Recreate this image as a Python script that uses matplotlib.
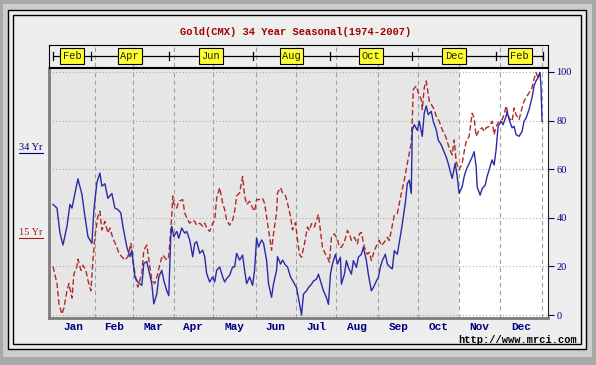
import matplotlib.pyplot as plt
from matplotlib.patches import Rectangle
from matplotlib.lines import Line2D

# seasonal index (0-100) vs trading day of the year
blue_day = [2, 4, 5.5, 7, 9, 10.5, 11.5, 13, 14.5, 16.5,
            18, 19.5, 21.5, 22.5, 24, 25.5, 26.5, 28, 29.5, 31.5,
            33, 34.5, 36, 37, 39, 40.5, 41.5, 43, 44.5, 46.5,
            47.5, 49, 50, 51.5, 52.5, 54, 55, 56.5, 57.5, 59,
            60, 60.5, 61, 61.5, 62.5, 64, 65, 66.5, 68, 69,
            70.5, 72, 73, 74, 75.5, 77, 78, 79, 80.5, 82,
            83, 84, 85.5, 87, 88, 89, 90.5, 92, 93, 94,
            95.5, 97, 98, 99, 100.5, 102, 103, 104, 105, 106.5,
            107.5, 109, 110, 111.5, 112.5, 114, 114.5, 116, 117, 118.5,
            119.5, 121, 122, 124, 125, 126.5, 127.5, 129, 130, 131.5,
            132.5, 134, 135, 136.5, 137.5, 139, 140, 141, 142, 143.5,
            144.5, 146, 146.5, 148, 149, 150, 151.5, 152.5, 154, 155,
            156.5, 157.5, 159, 160, 161.5, 162.5, 164, 165, 166, 167,
            168.5, 169.5, 171, 172, 173, 174.5, 175.5, 176.5, 177.5, 178.5,
            179.5, 180.5, 181.5, 182, 183, 184.5, 185.5, 187, 188, 189,
            190, 191.5, 192.5, 194, 195, 196.5, 197.5, 199, 200, 201.5,
            202, 203.5, 204.5, 205.5, 207, 208, 209, 210.5, 212, 213,
            214, 214.5, 216, 217, 218.5, 219.5, 221, 222, 223, 224,
            225, 226.5, 227.5, 229, 229.5, 230.5, 232, 233, 234, 235.5,
            237, 238, 239, 240.5, 242, 243, 244, 245, 246, 246.5, 247]
blue_val = [45.5, 44, 33.7, 28.8, 36.5, 45.5, 44, 50, 56, 49.6,
            40.6, 32.3, 29.5, 43.4, 54.5, 58.4, 53, 54, 48, 50,
            44, 43.4, 42, 36.5, 28, 24, 26.7, 15.7, 13.6, 12.2,
            21.2, 22, 18.4, 12.9, 4.6, 8.7, 15.7, 18.4, 14.3, 10,
            8, 20, 32.3, 36.5, 32.3, 34.4, 31.6, 35.8, 33.7, 34.4,
            30.9, 24, 29.5, 30.2, 25.4, 26.7, 24, 17, 13.6, 15.7,
            13.6, 18.4, 19.8, 15.7, 13.6, 15, 16.4, 19.8, 19.8, 25.4,
            22.6, 24.7, 18.4, 12.9, 15.7, 12.2, 18.4, 31.6, 28, 30.9,
            29.5, 22.6, 12.9, 7.3, 12.9, 18.4, 24, 21, 22.6, 20.5,
            19.8, 15.7, 14.3, 11.3, 7, 0, 8.6, 10, 11.3, 12.7,
            14, 14.8, 16.8, 12.7, 10, 7.2, 4.4, 16.8, 21, 25,
            21, 23.8, 12.7, 16.8, 22.4, 19.6, 16.8, 22.4, 19.6, 23.8,
            25, 27.9, 22.4, 16.8, 10, 11.3, 14, 15.5, 19.6, 22.4,
            25, 21, 19.6, 19, 26.5, 25, 30, 34.8, 40.3, 45.9,
            54, 55.5, 50, 76, 78.3, 76, 79.7, 73.5, 83, 86,
            82.4, 83.8, 79.7, 76.2, 72, 70, 68, 65, 62.4, 57.6,
            56.2, 62.4, 57, 50, 52.8, 57, 59.7, 62.4, 65, 67.2,
            61, 52.8, 49.3, 52, 53.4, 57, 61, 63.8, 61.7, 68,
            77.6, 79.7, 78.3, 81.8, 83.8, 80.4, 77, 77.6, 74.2, 73.5,
            75.5, 79.7, 81, 84.5, 89.4, 94.2, 96.3, 97.6, 99.7, 94, 79.7]

red_day = [2, 4, 5, 6.5, 7.5, 9, 10, 11.5, 12.5, 14,
           14.5, 16, 17, 18.5, 19.5, 21, 22, 23, 24.5, 25.5,
           26.5, 28, 29.5, 30.5, 32, 34, 35, 36.5, 38, 39.5,
           41, 42, 43.5, 44.5, 46.5, 47.5, 49, 50.5, 51.5, 53,
           54.5, 55.5, 57, 59, 60, 61.5, 62, 62.5, 64, 65,
           67, 68, 69, 70.5, 72, 73, 74, 75.5, 77, 78,
           79, 80.5, 82, 83, 84, 85.5, 87, 88, 89, 90.5,
           92, 93, 94, 95.5, 97, 98, 99, 100.5, 102, 103,
           104, 105.5, 107, 108, 109, 110.5, 111.5, 112.5, 114, 114.5,
           116, 117, 118.5, 119.5, 121, 122, 123.5, 124.5, 125.5, 126.5,
           128, 129.5, 130.5, 131.5, 133, 134, 135, 136, 137, 138.5,
           139.5, 140.5, 141.5, 143, 144.5, 145.5, 146.5, 148, 149.5, 150.5,
           151.5, 153, 154.5, 155.5, 156.5, 158, 159.5, 160.5, 161.5, 163,
           164.5, 165.5, 166.5, 168, 169.5, 170.5, 171.5, 173, 174.5, 175.5,
           176.5, 178, 179.5, 180.5, 181.5, 182, 182.5, 184, 185, 186.5,
           187, 188, 189, 190.5, 192, 193, 194, 195.5, 197, 198,
           199, 200.5, 202, 203, 204, 205.5, 207, 208, 209, 210.5,
           212, 213, 214, 215.5, 217, 218, 219, 220.5, 222, 223,
           224, 225.5, 227, 228, 229, 230.5, 232, 233, 234, 235.5,
           237, 238, 239, 240.5, 242, 243, 244, 245, 246]
red_val = [20, 13, 4.6, 0.4, 3, 10, 13, 7, 17, 20,
           23, 18.4, 20.5, 18.4, 14.3, 10, 22.6, 32.3, 40.6, 42.7,
           35, 38.5, 33.7, 35.8, 31.6, 28, 25.4, 24, 22.6, 24,
           29.5, 22.6, 15, 11.5, 17, 26.7, 28.8, 20, 14.3, 13,
           17, 21, 24.7, 22.6, 24, 40.6, 49, 46, 44, 46.8,
           47.5, 42, 40, 37.8, 39, 38.5, 37, 37.8, 36.5, 37.8,
           35.8, 34.4, 37.8, 39, 48, 52.4, 46, 43.4, 39, 37,
           39, 42.7, 49, 50.3, 57, 49, 45.5, 46.8, 44, 42.7,
           47.5, 47.5, 48, 46, 40.6, 32.3, 26.7, 33.7, 42, 50.3,
           52.4, 50.3, 49, 46, 40.6, 35, 38, 31, 25, 23.8,
           29.3, 36.2, 34.8, 37.6, 36.2, 39, 41.4, 34.8, 27.9, 25,
           23.8, 21.7, 32, 33.4, 31.3, 27.9, 27.9, 30, 34.8, 33.4,
           30.7, 32, 29.3, 33.4, 34, 27.9, 25, 25.8, 22.4, 26.5,
           29.3, 30.7, 28.6, 30, 32, 30.7, 34.8, 41, 41.7, 45.9,
           50, 55.5, 62.4, 66.6, 70.7, 80.4, 92.8, 94.2, 91.4, 88.7,
           84.5, 93.5, 96.3, 88, 86, 84.5, 81.8, 79.7, 76.2, 74.8,
           72.8, 68.6, 65.9, 72, 63, 59.7, 62.4, 67.2, 71.4, 73.5,
           83, 81, 73.5, 76.2, 77, 75.5, 77, 77.6, 79.7, 74.2,
           77.6, 79.7, 80.4, 82.4, 86, 81, 79.7, 85.2, 82.4, 80.4,
           85.2, 88, 89.4, 91.4, 93.5, 97, 99.7, 97.6, 100]

month_edges = [1, 23, 42, 62.5, 82, 103.5, 123.5, 144, 165, 185, 205.5, 226, 247]
month_names = ['Jan', 'Feb', 'Mar', 'Apr', 'May', 'Jun',
               'Jul', 'Aug', 'Sep', 'Oct', 'Nov', 'Dec']
band_edges = [2, 21, 60, 102, 141, 182, 224, 247.5]
band_names = ['Feb', 'Apr', 'Jun', 'Aug', 'Oct', 'Dec', 'Feb']
y_ticks = [0, 20, 40, 60, 80, 100]

W, H = 596, 365
mono = 'Liberation Mono'


def fr(x0, y0, x1, y1, **kw):
    # rectangle given in pixel coords (top-left origin)
    return Rectangle((x0 / W, 1 - y1 / H), (x1 - x0) / W, (y1 - y0) / H,
                     transform=fig.transFigure, zorder=-5, **kw)


fig = plt.figure(figsize=(W / 100, H / 100), dpi=100, facecolor='#a9a9a9')
fig.patches.append(fr(3, 4, 592, 357, facecolor='#cdcdcd', edgecolor='none'))
fig.patches.append(fr(8, 10, 586, 349, facecolor='#eeeeee', edgecolor='black', lw=1))
fig.patches.append(fr(13, 15, 581, 344, facecolor='#eeeeee', edgecolor='black', lw=1))

fig.text(296 / W, 1 - 32 / H, 'Gold(CMX) 34 Year Seasonal(1974-2007)',
         ha='center', va='center', color='#a00000', family=mono,
         fontsize=7.5, fontweight='bold')

# main plot
ax = fig.add_axes([49 / W, 1 - 318 / H, 499 / W, 250 / H])
ax.set_facecolor('#e6e6e6')
ax.set_xlim(0, 250)
ax.set_ylim(-1.2, 101.6)
ax.axvspan(month_edges[10], 250, color='white', zorder=0)
for d in month_edges[1:]:
    ax.axvline(d, color='#a0a0a0', ls=(0, (4, 3)), lw=0.8, zorder=1)
for v in y_ticks:
    ax.axhline(v, color='#ababab', ls=(0, (1, 2)), lw=0.8, zorder=1)

ax.plot(red_day, red_val, color='#b02a2a', ls=(0, (4, 2)), lw=1, zorder=3)
ax.plot(blue_day, blue_val, color='#2a2aa8', lw=1, zorder=4)

ax.spines['left'].set_color('#7c7c7c')
ax.spines['left'].set_linewidth(2)
ax.spines['bottom'].set_color('#7c7c7c')
ax.spines['bottom'].set_linewidth(2)
ax.spines['right'].set_color('#202020')
ax.spines['top'].set_color('black')

ax.set_xticks([])
ax.yaxis.tick_right()
ax.set_yticks(y_ticks)
ax.tick_params(axis='y', colors='#000080', labelsize=7.5, length=4, pad=2)
for t in ax.get_yticklabels():
    t.set_family('Liberation Serif')

for i, name in enumerate(month_names):
    mid = (month_edges[i] + month_edges[i + 1]) / 2
    ax.text(mid, -0.036, name, transform=ax.get_xaxis_transform(),
            ha='center', va='center', color='#000080', family=mono,
            fontsize=8, fontweight='bold')

# contract month band
bax = fig.add_axes([49 / W, 1 - 67 / H, 499 / W, 22 / H])
bax.set_facecolor('#eeeeee')
bax.set_xlim(0, 250)
bax.set_ylim(0, 1)
bax.set_xticks([])
bax.set_yticks([])
for s in bax.spines.values():
    s.set_color('black')
for d in month_edges[1:]:
    bax.axvline(d, color='#a0a0a0', ls=(0, (4, 3)), lw=0.8, zorder=1)
bax.plot([band_edges[0], band_edges[-1]], [0.5, 0.5], color='black', lw=0.9, zorder=2)
for d in band_edges:
    bax.plot([d, d], [0.3, 0.7], color='black', lw=0.9, zorder=2)
for i, name in enumerate(band_names):
    mid = (band_edges[i] + band_edges[i + 1]) / 2
    bax.text(mid, 0.5, name, ha='center', va='center', family=mono,
             fontsize=7.5, color='#202000', zorder=3,
             bbox=dict(boxstyle='square,pad=0.25', fc='#ffff33', ec='black', lw=0.8))

# series labels in the left margin
for label, color, y in [('34 Yr', '#000080', 147), ('15 Yr', '#a02020', 232)]:
    fig.text(31 / W, 1 - y / H, label, ha='center', va='center', color=color,
             family='Liberation Serif', fontsize=7.5)
    fig.add_artist(Line2D([19 / W, 43 / W], [1 - (y + 6) / H] * 2,
                          color=color, lw=0.8, transform=fig.transFigure))

fig.text(577 / W, 1 - 340 / H, 'http://www.mrci.com', ha='right', va='center',
         color='black', family=mono, fontsize=7.5, fontweight='bold')

fig.savefig('out.png', dpi=100, facecolor=fig.get_facecolor())
